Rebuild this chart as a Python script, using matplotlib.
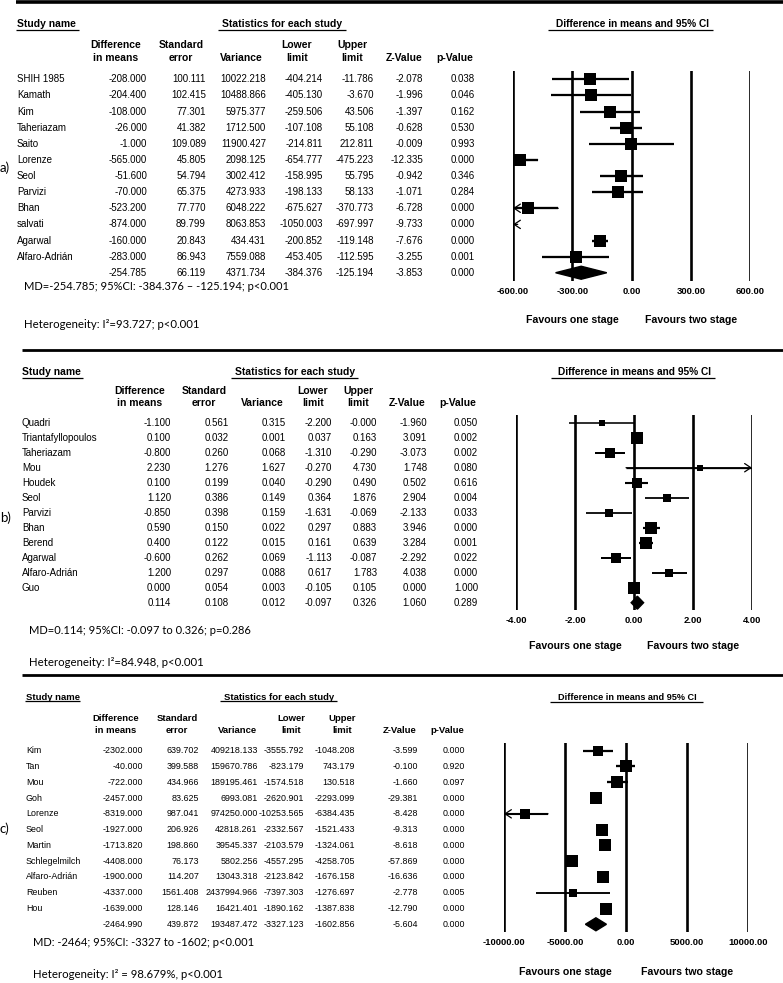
import numpy as np
import matplotlib
matplotlib.use('Agg')
import matplotlib.pyplot as plt
from matplotlib.lines import Line2D
from matplotlib.transforms import blended_transform_factory

W, H = 783, 983
TABLE_FONT = 'Liberation Sans'
NOTE_FONT = 'Lato'

# ---- a) ----
a_names = ['SHIH 1985', 'Kamath', 'Kim', 'Taheriazam', 'Saito', 'Lorenze', 'Seol',
           'Parvizi', 'Bhan', 'salvati', 'Agarwal', 'Alfaro-Adrián']
a_diff = [-208.000, -204.400, -108.000, -26.000, -1.000, -565.000, -51.600, -70.000,
          -523.200, -874.000, -160.000, -283.000, -254.785]
a_se = [100.111, 102.415, 77.301, 41.382, 109.089, 45.805, 54.794, 65.375,
        77.770, 89.799, 20.843, 86.943, 66.119]
a_var = [10022.218, 10488.866, 5975.377, 1712.500, 11900.427, 2098.125, 3002.412, 4273.933,
         6048.222, 8063.853, 434.431, 7559.088, 4371.734]
a_lower = [-404.214, -405.130, -259.506, -107.108, -214.811, -654.777, -158.995, -198.133,
           -675.627, -1050.003, -200.852, -453.405, -384.376]
a_upper = [-11.786, -3.670, 43.506, 55.108, 212.811, -475.223, 55.795, 58.133,
           -370.773, -697.997, -119.148, -112.595, -125.194]
a_z = [-2.078, -1.996, -1.397, -0.628, -0.009, -12.335, -0.942, -1.071,
       -6.728, -9.733, -7.676, -3.255, -3.853]
a_p = [0.038, 0.046, 0.162, 0.530, 0.993, 0.000, 0.346, 0.284, 0.000, 0.000, 0.000, 0.001, 0.000]
a_ticks = [-600, -300, 0, 300, 600]
a_md = 'MD=-254.785; 95%CI: -384.376 – -125.194; p<0.001'
a_het = 'Heterogeneity: I²=93.727; p<0.001'

# ---- b) ----
b_names = ['Quadri', 'Triantafyllopoulos', 'Taheriazam', 'Mou', 'Houdek', 'Seol', 'Parvizi',
           'Bhan', 'Berend', 'Agarwal', 'Alfaro-Adrián', 'Guo']
b_diff = [-1.100, 0.100, -0.800, 2.230, 0.100, 1.120, -0.850, 0.590, 0.400, -0.600, 1.200, 0.000, 0.114]
b_se = [0.561, 0.032, 0.260, 1.276, 0.199, 0.386, 0.398, 0.150, 0.122, 0.262, 0.297, 0.054, 0.108]
b_var = [0.315, 0.001, 0.068, 1.627, 0.040, 0.149, 0.159, 0.022, 0.015, 0.069, 0.088, 0.003, 0.012]
b_lower = [-2.200, 0.037, -1.310, -0.270, -0.290, 0.364, -1.631, 0.297, 0.161, -1.113, 0.617, -0.105, -0.097]
b_upper = [-0.000, 0.163, -0.290, 4.730, 0.490, 1.876, -0.069, 0.883, 0.639, -0.087, 1.783, 0.105, 0.326]
b_z = [-1.960, 3.091, -3.073, 1.748, 0.502, 2.904, -2.133, 3.946, 3.284, -2.292, 4.038, 0.000, 1.060]
b_p = [0.050, 0.002, 0.002, 0.080, 0.616, 0.004, 0.033, 0.000, 0.001, 0.022, 0.000, 1.000, 0.289]
b_ticks = [-4, -2, 0, 2, 4]
b_md = 'MD=0.114; 95%CI: -0.097 to 0.326; p=0.286'
b_het = 'Heterogeneity: I²=84.948, p<0.001'

# ---- c) ----
c_names = ['Kim', 'Tan', 'Mou', 'Goh', 'Lorenze', 'Seol', 'Martin', 'Schlegelmilch',
           'Alfaro-Adrián', 'Reuben', 'Hou']
c_diff = [-2302.000, -40.000, -722.000, -2457.000, -8319.000, -1927.000, -1713.820, -4408.000,
          -1900.000, -4337.000, -1639.000, -2464.990]
c_se = [639.702, 399.588, 434.966, 83.625, 987.041, 206.926, 198.860, 76.173,
        114.207, 1561.408, 128.146, 439.872]
c_var = [409218.133, 159670.786, 189195.461, 6993.081, 974250.000, 42818.261, 39545.337, 5802.256,
         13043.318, 2437994.966, 16421.401, 193487.472]
c_lower = [-3555.792, -823.179, -1574.518, -2620.901, -10253.565, -2332.567, -2103.579, -4557.295,
           -2123.842, -7397.303, -1890.162, -3327.123]
c_upper = [-1048.208, 743.179, 130.518, -2293.099, -6384.435, -1521.433, -1324.061, -4258.705,
           -1676.158, -1276.697, -1387.838, -1602.856]
c_z = [-3.599, -0.100, -1.660, -29.381, -8.428, -9.313, -8.618, -57.869, -16.636, -2.778, -12.790, -5.604]
c_p = [0.000, 0.920, 0.097, 0.000, 0.000, 0.000, 0.000, 0.000, 0.000, 0.005, 0.000, 0.000]
c_ticks = [-10000, -5000, 0, 5000, 10000]
c_md = 'MD: -2464; 95%CI: -3327 to -1602; p<0.001'
c_het = 'Heterogeneity: I² = 98.679%, p<0.001'

headers = ['Difference\nin means', 'Standard\nerror', 'Variance', 'Lower\nlimit', 'Upper\nlimit',
           'Z-Value', 'p-Value']

# layout (pixels)
lay_a = dict(label='a)', label_y=168, rule_y=1.5, rule_x=16, rule_lw=2.6,
             title_y=24, ul_y=29.5, name_x=17, name_ul=(16, 79),
             stats_x=282, stats_ul=(218, 346), ci_x=632, ci_ul=(548, 713),
             hdr_y=(45, 58), hdr_x=[116, 181, 241, 297, 352, 404, 455],
             col_x=[147, 206, 266, 323, 374, 423, 475],
             row0=79.3, dy=16.12, x0=513, x1=750,
             fs=7.0, fs_hdr=7.5, fav_off=28, md_y=287, het_y=325, box=12.5)
lay_b = dict(label='b)', label_y=518, rule_y=350, rule_x=22, rule_lw=2.0,
             title_y=372, ul_y=377.5, name_x=22, name_ul=(22, 83),
             stats_x=295, stats_ul=(231, 358), ci_x=634, ci_ul=(551, 715),
             hdr_y=(391.5, 402.5), hdr_x=[140, 204, 262, 313, 358, 407, 458],
             col_x=[171, 229, 286, 332, 377, 427, 478],
             row0=422.7, dy=15.0, x0=516, x1=752,
             fs=7.0, fs_hdr=7.5, fav_off=26, md_y=631, het_y=663, box=12.5)
lay_c = dict(label='c)', label_y=829, rule_y=675, rule_x=22, rule_lw=2.0,
             title_y=697, ul_y=701, name_x=26, name_ul=(25, 80),
             stats_x=279, stats_ul=(220, 337), ci_x=627, ci_ul=(550, 703),
             hdr_y=(718.3, 730.7), hdr_x=[115.5, 177, 237, 291, 342.5, 400, 447],
             col_x=[143.3, 199, 257.7, 304.3, 355, 418.3, 465],
             row0=750.7, dy=15.78, x0=504, x1=748,
             fs=6.4, fs_hdr=6.8, fav_off=29, md_y=943, het_y=975, box=12)


def fx(x):
    return x / W


def fy(y):
    return 1 - y / H


def hline(fig, x0, x1, y, lw):
    fig.add_artist(Line2D([fx(x0), fx(x1)], [fy(y), fy(y)], transform=fig.transFigure,
                          color='black', lw=lw, solid_capstyle='butt'))


def re_weights(diff, se):
    # DerSimonian-Laird random effects weights
    y = np.asarray(diff)
    v = np.asarray(se) ** 2
    w = 1 / v
    ybar = np.sum(w * y) / np.sum(w)
    q = np.sum(w * (y - ybar) ** 2)
    c = np.sum(w) - np.sum(w ** 2) / np.sum(w)
    tau2 = max(0.0, (q - (len(y) - 1)) / c)
    return 1 / (v + tau2)


def draw_panel(fig, lay, names, diff, se, var, lower, upper, zval, pval, ticks, md, het):
    n = len(names)
    top = lay['row0'] - lay['dy'] / 2
    bottom = lay['row0'] + lay['dy'] * (n + 0.5)
    ax = fig.add_axes([fx(lay['x0']), fy(bottom), (lay['x1'] - lay['x0']) / W, (bottom - top) / H])
    ax.set_xlim(ticks[0], ticks[-1])
    ax.set_ylim(n + 0.5, -0.5)
    ax.patch.set_alpha(0)
    for s in ax.spines.values():
        s.set_visible(False)
    ax.set_yticks([])
    ax.set_xticks(ticks)
    ax.set_xticklabels([f'{t:.2f}' for t in ticks], fontweight='bold', fontsize=6.8, family=TABLE_FONT)
    ax.tick_params(axis='x', length=0, pad=4.5)
    for t in ticks:
        ax.axvline(t, color='black', lw=1.9, zorder=1)

    xmin, xmax = ticks[0], ticks[-1]
    span = xmax - xmin
    w = re_weights(diff[:n], se[:n])
    wrel = w / w.max()
    for i in range(n):
        lo, hi, m = lower[i], upper[i], diff[i]
        lw = 0.7 + 1.0 * np.sqrt(wrel[i])
        a, b = max(lo, xmin), min(hi, xmax)
        if a < b:
            ax.plot([a, b], [i, i], color='black', lw=lw, zorder=2, solid_capstyle='butt')
        arrow = dict(arrowstyle='->,head_length=0.45,head_width=0.3', lw=0.9, color='black',
                     shrinkA=0, shrinkB=0)
        if lo < xmin:
            ax.annotate('', xy=(xmin, i), xytext=(min(max(b, xmin + 0.02 * span), xmax), i),
                        arrowprops=arrow, zorder=3, annotation_clip=False)
        if hi > xmax:
            ax.annotate('', xy=(xmax, i), xytext=(max(min(a, xmax - 0.02 * span), xmin), i),
                        arrowprops=arrow, zorder=3, annotation_clip=False)
        if xmin <= m <= xmax:
            side = max(5.5, lay['box'] * np.sqrt(wrel[i])) * 0.72
            ax.scatter([m], [i], marker='s', s=side ** 2, color='black', zorder=4,
                       linewidths=0, clip_on=False)

    # summary diamond
    h = 6.5 / lay['dy']
    ax.fill([lower[n], diff[n], upper[n], diff[n]], [n, n - h, n, n + h], color='black', zorder=4,
            clip_on=False)

    for xv, txt in [(-span / 4, 'Favours one stage'), (span / 4, 'Favours two stage')]:
        ax.annotate(txt, xy=(xv, 0), xycoords=('data', 'axes fraction'),
                    xytext=(0, -lay['fav_off']), textcoords='offset points',
                    ha='center', va='center', fontsize=7.6, fontweight='bold', family=TABLE_FONT)

    # header block
    hline(fig, lay['rule_x'], W, lay['rule_y'], lay['rule_lw'])
    fs_h = lay['fs_hdr']
    fig.text(fx(lay['name_x']), fy(lay['title_y']), 'Study name', ha='left', va='center',
             fontsize=fs_h, fontweight='bold', family=TABLE_FONT)
    fig.text(fx(lay['stats_x']), fy(lay['title_y']), 'Statistics for each study', ha='center',
             va='center', fontsize=fs_h, fontweight='bold', family=TABLE_FONT)
    fig.text(fx(lay['ci_x']), fy(lay['title_y']), 'Difference in means and 95% CI', ha='center',
             va='center', fontsize=fs_h * 0.97, fontweight='bold', family=TABLE_FONT)
    hline(fig, *lay['name_ul'], lay['ul_y'], 0.9)
    hline(fig, *lay['stats_ul'], lay['ul_y'], 0.9)
    hline(fig, *lay['ci_ul'], lay['ul_y'] + 0.5, 0.9)
    for hx, htxt in zip(lay['hdr_x'], headers):
        lines = htxt.split('\n')
        if len(lines) == 1:
            lines = [''] + lines
        for ly, lt in zip(lay['hdr_y'], lines):
            if lt:
                fig.text(fx(hx), fy(ly), lt, ha='center', va='center', fontsize=fs_h,
                         fontweight='bold', family=TABLE_FONT)

    # table rows on the same row scale as the forest axes
    trans = blended_transform_factory(fig.transFigure, ax.transData)
    fs = lay['fs']
    for i in range(n + 1):
        if i < n:
            ax.text(fx(lay['name_x']), i, names[i], transform=trans, ha='left', va='center',
                    fontsize=fs, family=TABLE_FONT)
        for cx, col in zip(lay['col_x'], [diff, se, var, lower, upper, zval, pval]):
            ax.text(fx(cx), i, f'{col[i]:.3f}', transform=trans, ha='right', va='center',
                    fontsize=fs, family=TABLE_FONT)

    fig.text(fx(lay['name_x'] + 7), fy(lay['md_y']), md, ha='left', va='center', fontsize=8.0,
             family=NOTE_FONT)
    fig.text(fx(lay['name_x'] + 7), fy(lay['het_y']), het, ha='left', va='center', fontsize=8.2,
             family=NOTE_FONT)
    fig.text(fx(0), fy(lay['label_y']), lay['label'], ha='left', va='center', fontsize=9.5,
             family=NOTE_FONT)
    return ax


fig = plt.figure(figsize=(W / 100, H / 100), dpi=100)
fig.patch.set_facecolor('white')

draw_panel(fig, lay_a, a_names, a_diff, a_se, a_var, a_lower, a_upper, a_z, a_p, a_ticks, a_md, a_het)
draw_panel(fig, lay_b, b_names, b_diff, b_se, b_var, b_lower, b_upper, b_z, b_p, b_ticks, b_md, b_het)
draw_panel(fig, lay_c, c_names, c_diff, c_se, c_var, c_lower, c_upper, c_z, c_p, c_ticks, c_md, c_het)

fig.savefig('out.png', dpi=100)
